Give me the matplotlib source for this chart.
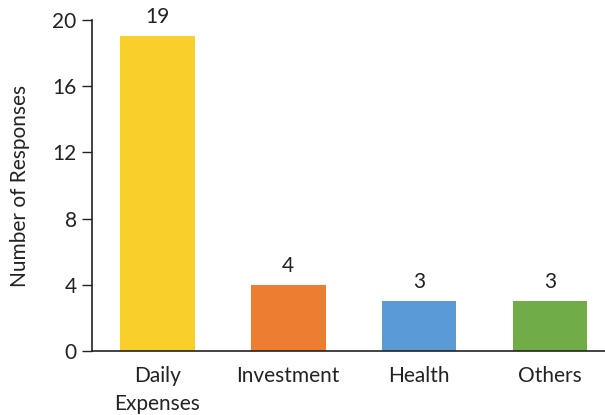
import matplotlib

matplotlib.use("Agg")
import matplotlib.pyplot as plt

categories = ["Daily\nExpenses", "Investment", "Health", "Others"]
responses = [19, 4, 3, 3]
colors = ["#F9D02B", "#ED7D31", "#5B9BD5", "#70AD47"]
yticks = [0, 4, 8, 12, 16, 20]

plt.rcParams["font.family"] = ["Lato", "DejaVu Sans"]
FS = 15
INK = "#222222"

fig = plt.figure(figsize=(6.05, 4.15), dpi=100)
ax = fig.add_axes([0.152, 0.154, 0.848, 0.798])

x = range(len(categories))
bars = ax.bar(x, responses, width=0.57, color=colors, zorder=2)
for b, v in zip(bars, responses):
    ax.text(b.get_x() + b.get_width() / 2, v + 0.55, str(v),
            ha="center", va="bottom", fontsize=FS, color=INK)

ax.set_xlim(-0.5, 3.42)
ax.set_ylim(0, 20)
ax.set_yticks(yticks)
ax.set_xticks(list(x))
ax.set_xticklabels(categories, fontsize=FS, linespacing=1.45, va="top")
ax.tick_params(axis="y", labelsize=FS, length=7, width=1, colors=INK, pad=4)
ax.tick_params(axis="x", length=0, pad=11, colors=INK)
ax.set_ylabel("Number of Responses", fontsize=FS, color=INK, labelpad=16)

for s in ("top", "right"):
    ax.spines[s].set_visible(False)
for s in ("left", "bottom"):
    ax.spines[s].set_color(INK)
    ax.spines[s].set_linewidth(1.2)

fig.savefig("out.png", dpi=100)
